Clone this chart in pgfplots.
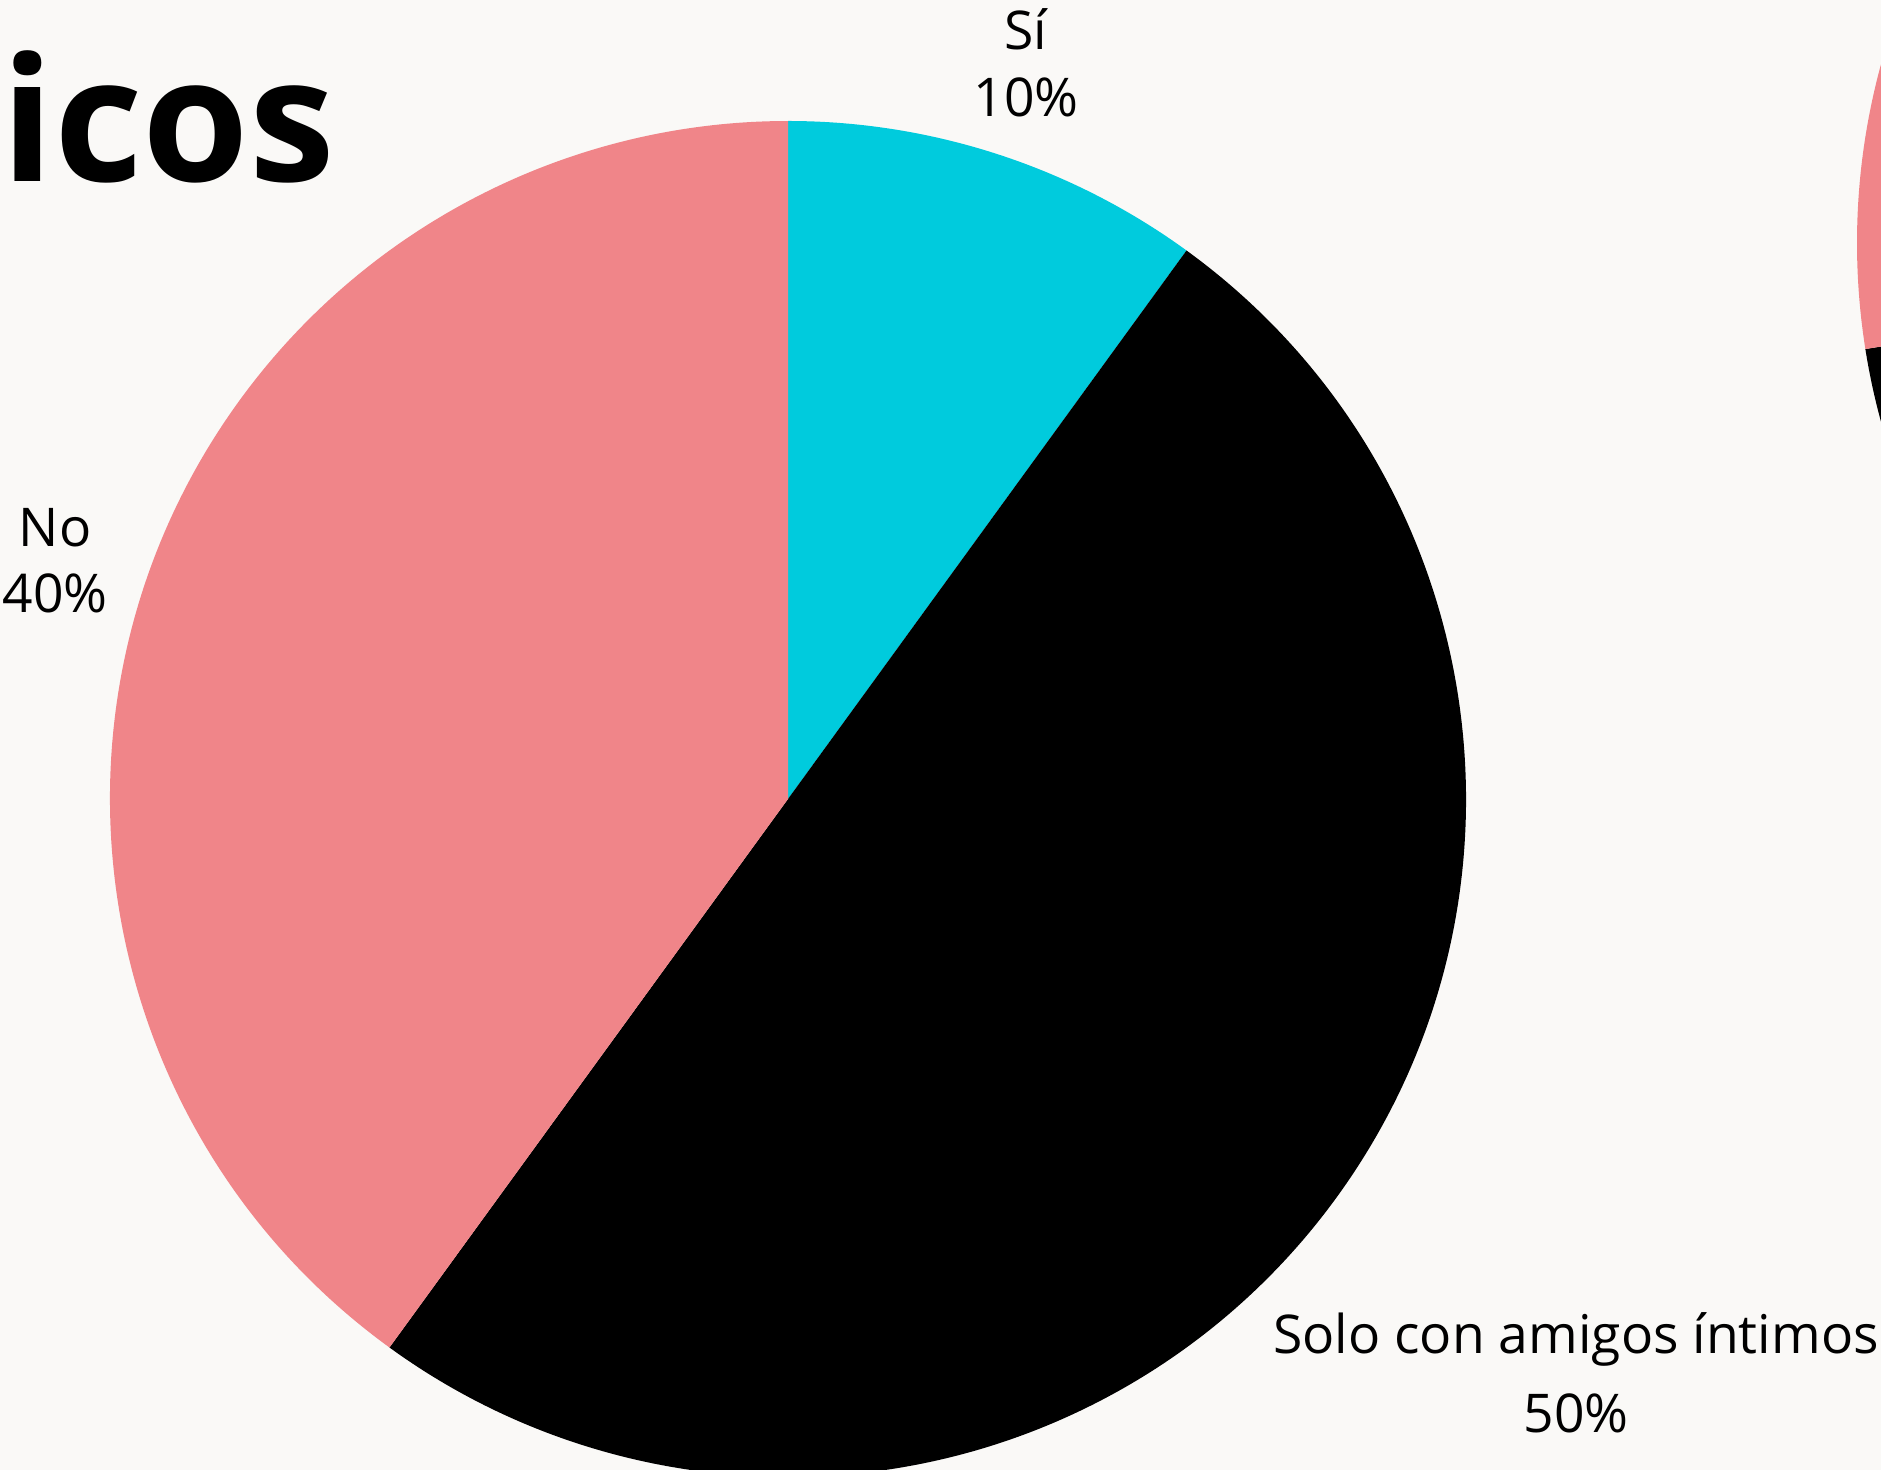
\documentclass[border=0pt]{standalone}
\usepackage{pgfplots}
\pgfplotsset{compat=1.18}
\usepackage{fontspec}
\setmainfont{Open Sans}
\definecolor{bgc}{RGB}{250,249,247}
\definecolor{pinkc}{RGB}{240,133,137}
\definecolor{cyanc}{RGB}{0,203,221}
\newcommand{\lab}{\fontsize{15.2}{19}\selectfont}
% pie values (percent)
\def\vSi{10}\def\vSolo{50}\def\vNo{40}
\def\wSi{12.5}\def\wSolo{60}\def\wNo{27.5}
\pgfmathsetmacro\aA{90}
\pgfmathsetmacro\aB{\aA-3.6*\vSi}
\pgfmathsetmacro\aC{\aB-3.6*\vSolo}
\pgfmathsetmacro\aD{\aC-3.6*\vNo}
\pgfmathsetmacro\bA{90}
\pgfmathsetmacro\bB{\bA-3.6*\wSi}
\pgfmathsetmacro\bC{\bB-3.6*\wSolo}
\pgfmathsetmacro\bD{\bC-3.6*\wNo}
\newcommand{\slice}[5]{\fill[#5] (axis cs:#1,#2) -- ++(#3:67.8mm) arc[start angle=#3, end angle=#4, radius=67.8mm] -- cycle;}
\begin{document}
\begin{tikzpicture}
\fill[bgc] (0,0) rectangle (188.1mm,147mm);
\begin{axis}[at={(0,0)}, anchor=south west, scale only axis,
  width=188.1mm, height=147mm, xmin=0, xmax=1881, ymin=0, ymax=1470,
  y dir=reverse, hide axis, clip=true]
\slice{788}{799}{\aA}{\aB}{cyanc}
\slice{788}{799}{\aB}{\aC}{black}
\slice{788}{799}{\aC}{\aD}{pinkc}
\slice{2535}{243}{\bA}{\bB}{cyanc}
\slice{2535}{243}{\bB}{\bC}{black}
\slice{2535}{243}{\bC}{\bD}{pinkc}
\node[anchor=base west, inner sep=0, font=\fontsize{49}{58}\selectfont\bfseries] at (axis cs:1,182) {icos};
\node[anchor=base, inner sep=0, font=\lab] at (axis cs:1026,50) {Sí};
\node[anchor=base, inner sep=0, font=\lab] at (axis cs:1026,117) {10\%};
\node[anchor=base, inner sep=0, font=\lab] at (axis cs:55,547) {No};
\node[anchor=base, inner sep=0, font=\lab] at (axis cs:55,613) {40\%};
\node[anchor=base, inner sep=0, font=\lab] at (axis cs:1576,1353) {Solo con amigos íntimos};
\node[anchor=base, inner sep=0, font=\lab] at (axis cs:1576,1432) {50\%};
\end{axis}
\pgfresetboundingbox
\useasboundingbox (0,0) rectangle (188.1mm,147mm);
\end{tikzpicture}
\end{document}
